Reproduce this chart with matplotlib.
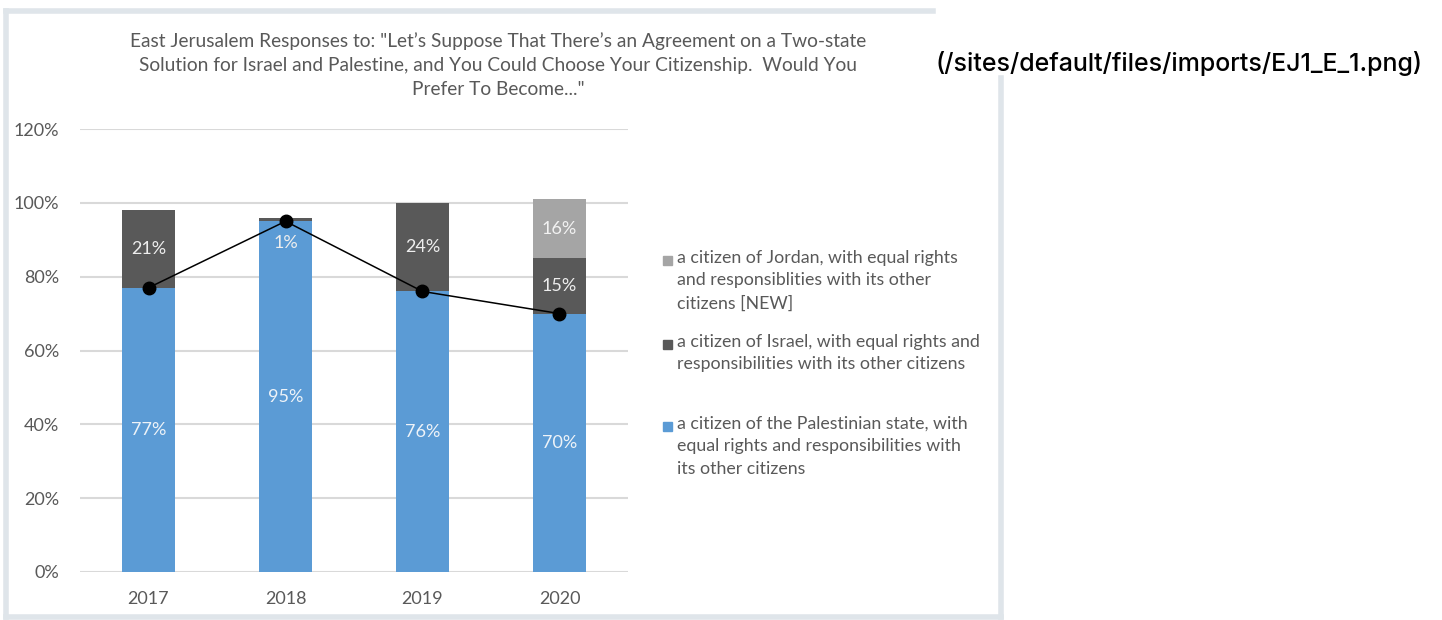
import matplotlib.pyplot as plt
import numpy as np
from matplotlib.patches import Rectangle
from matplotlib.lines import Line2D

years = ['2017', '2018', '2019', '2020']
palestine = [77, 95, 76, 70]
israel = [21, 1, 24, 15]
jordan = [0, 0, 0, 16]

# where each segment's label sits (percent); 2018 Israel label is pushed into the blue bar
israel_label_y = [87.5, 89, 88, 77.5]
jordan_labels = ['', '', '', '16%']

title = ('East Jerusalem Responses to: "Let\u2019s Suppose That There\u2019s an Agreement on a Two-state\n'
         'Solution for Israel and Palestine, and You Could Choose Your Citizenship.  Would You\n'
         'Prefer To Become..."')
legend_labels = [
    'a citizen of Jordan, with equal rights\nand responsiblities with its other\ncitizens [NEW]',
    'a citizen of Israel, with equal rights and\nresponsibilities with its other citizens',
    'a citizen of the Palestinian state, with\nequal rights and responsibilities with\nits other citizens',
]

c_pal = '#5b9bd5'
c_isr = '#595959'
c_jor = '#a5a5a5'
txt = '#595959'
font = 'Lato'

W, H = 1442, 620
fig = plt.figure(figsize=(W / 100, H / 100), dpi=100)

def fx(px):
    return px / W

def fy(py):
    return 1 - py / H

ax = fig.add_axes([fx(80), fy(572), fx(628) - fx(80), fy(129) - fy(572)])
x = np.arange(len(years))
pal = np.array(palestine)
isr = np.array(israel)
jor = np.array(jordan)

ax.bar(x, pal, width=0.39, color=c_pal, zorder=2)
ax.bar(x, isr, width=0.39, bottom=pal, color=c_isr, zorder=2)
ax.bar(x, jor, width=0.39, bottom=pal + isr, color=c_jor, zorder=2)
ax.plot(x, pal, color='black', lw=1.1, marker='o', ms=9, zorder=4)

lab_size = 13
for i in range(len(years)):
    ax.text(x[i], pal[i] / 2, f'{palestine[i]}%', ha='center', va='center',
            color='#eef3f8', fontsize=lab_size, family=font, zorder=5)
    ax.text(x[i], israel_label_y[i], f'{israel[i]}%', ha='center', va='center',
            color='#eeeeee', fontsize=lab_size, family=font, zorder=5)
    if jordan_labels[i]:
        ax.text(x[i], pal[i] + isr[i] + jor[i] / 2, jordan_labels[i], ha='center',
                va='center', color='#f2f2f2', fontsize=lab_size, family=font, zorder=5)

ax.set_xlim(-0.5, 3.5)
ax.set_ylim(0, 120)
ax.set_yticks(range(0, 121, 20))
ax.set_yticklabels([f'{v}%' for v in range(0, 121, 20)])
ax.set_xticks(x)
ax.set_xticklabels(years)
ax.yaxis.grid(True, color='#d9d9d9', lw=1.5, zorder=0)
ax.tick_params(length=0, labelcolor=txt, labelsize=13)
ax.tick_params(axis='y', pad=15)
ax.tick_params(axis='x', pad=14)
for lab in ax.get_xticklabels() + ax.get_yticklabels():
    lab.set_family(font)
for s in ax.spines.values():
    s.set_visible(False)
ax.set_facecolor('none')

fig.text(fx(498), fy(32), title, ha='center', va='top', fontsize=13.8, color=txt,
         family=font, linespacing=1.5)

# legend drawn by hand: the gaps between entries are uneven
leg_tops = [250, 334, 416]
leg_colors = [c_jor, c_isr, c_pal]
for top, lab, col in zip(leg_tops, legend_labels, leg_colors):
    fig.text(fx(677), fy(top), lab, ha='left', va='top', fontsize=12.8, color=txt,
             family=font, linespacing=1.5)
    fig.patches.append(Rectangle((fx(663), fy(top + 15)), fx(9), fy(0) - fy(9),
                                 transform=fig.transFigure, color=col))

# frame around the embedded image
frame = '#dfe5ea'
fig.lines.append(Line2D([fx(6), fx(933)], [fy(11), fy(11)], color=frame, lw=4, transform=fig.transFigure))
fig.lines.append(Line2D([fx(6), fx(6)], [fy(11), fy(617)], color=frame, lw=4, transform=fig.transFigure))
fig.lines.append(Line2D([fx(6), fx(1001)], [fy(617), fy(617)], color=frame, lw=4, transform=fig.transFigure))
fig.lines.append(Line2D([fx(1001), fx(1001)], [fy(78), fy(617)], color=frame, lw=4, transform=fig.transFigure))

fig.text(fx(935), fy(63), '(/sites/default/files/imports/EJ1_E_1.png)', ha='left', va='center',
         fontsize=18, color='black', family='Inter', weight='medium')

fig.savefig('out.png', dpi=100)
